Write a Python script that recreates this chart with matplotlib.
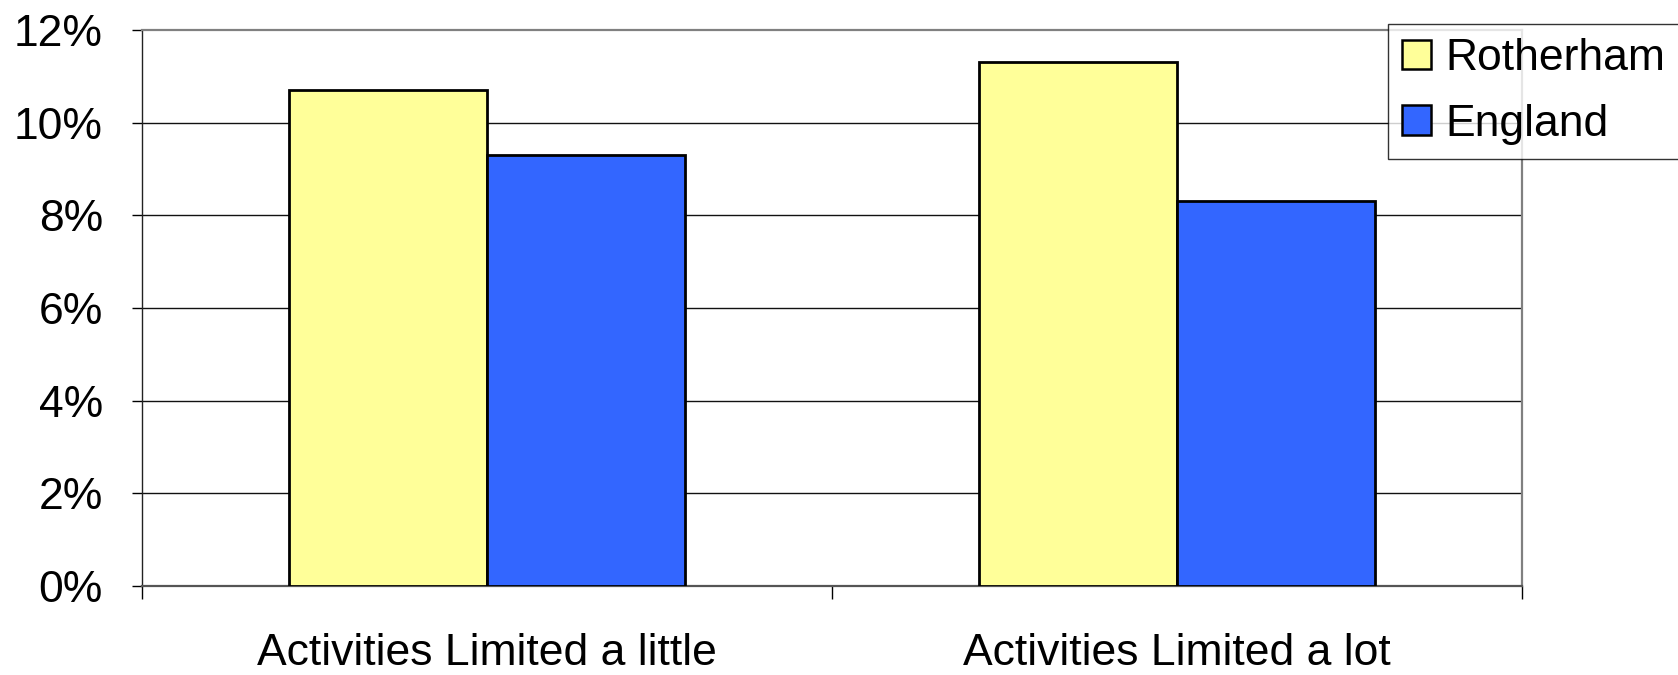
import matplotlib
matplotlib.use("Agg")
import matplotlib.pyplot as plt
import numpy as np
from matplotlib.ticker import FuncFormatter

categories = ["Activities Limited a little", "Activities Limited a lot"]
series_names = ["Rotherham", "England"]
rotherham = [10.7, 11.3]
england = [9.3, 8.3]
y_ticks = [0, 2, 4, 6, 8, 10, 12]

plt.rcParams['font.family'] = ['Liberation Sans', 'DejaVu Sans']

fig = plt.figure(figsize=(16.78, 6.75), dpi=100)
ax = fig.add_axes([142/1678, 1 - 586/675, (1522-142)/1678, (586-30)/675])

x = np.arange(len(categories))
w = 0.287
ax.bar(x - w/2, rotherham, width=w, color="#FFFF99", edgecolor="black", linewidth=2,
       label=series_names[0], zorder=3)
ax.bar(x + w/2, england, width=w, color="#3366FF", edgecolor="black", linewidth=2,
       label=series_names[1], zorder=3)

ax.set_xlim(-0.5, len(categories) - 0.5)
ax.set_ylim(0, 12)
ax.set_yticks(y_ticks)
ax.yaxis.set_major_formatter(FuncFormatter(lambda v, p: f"{v:.0f}%"))
ax.tick_params(axis='y', direction='out', length=7, width=1, color='black',
               labelsize=32, pad=21)

ax.set_xticks(x)
ax.set_xticklabels(categories)
ax.set_xticks(np.arange(-0.5, len(categories)), minor=True)
ax.tick_params(axis='x', which='major', length=0, labelsize=32, pad=34)
ax.tick_params(axis='x', which='minor', direction='out', length=9, width=1, color='black')

for yv in y_ticks[1:-1]:
    ax.axhline(yv, color='#111111', linewidth=1.0, zorder=1)

ax.spines['left'].set_color('#222222')
ax.spines['left'].set_linewidth(1)
for s in ['top', 'right', 'bottom']:
    ax.spines[s].set_color('#808080')
    ax.spines[s].set_linewidth(1.6)
ax.spines['bottom'].set_color('#555555')

leg = fig.legend(loc='upper left', bbox_to_anchor=(1388/1678, 1 - 24/675),
                 borderaxespad=0, fontsize=32, frameon=True, fancybox=False,
                 edgecolor='black', handlelength=0.65, handleheight=0.65,
                 handletextpad=0.33, borderpad=0.32, labelspacing=0.55)
leg.get_frame().set_linewidth(1)
for h in leg.legend_handles:
    h.set_linewidth(1.8)

fig.savefig("out.png", dpi=100)
